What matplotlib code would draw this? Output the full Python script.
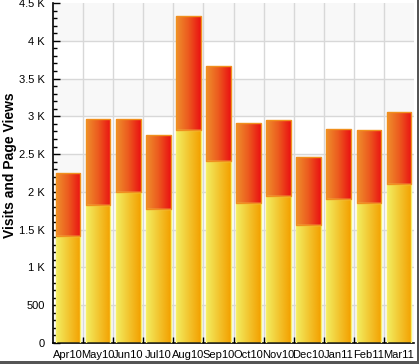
import matplotlib
matplotlib.use("Agg")
import matplotlib.pyplot as plt
import numpy as np
from matplotlib.colors import LinearSegmentedColormap
from matplotlib.ticker import FuncFormatter, MultipleLocator
from matplotlib.patches import Rectangle

months = ["Apr10", "May10", "Jun10", "Jul10", "Aug10", "Sep10",
          "Oct10", "Nov10", "Dec10", "Jan11", "Feb11", "Mar11"]
visits = [1420, 1830, 2000, 1780, 2820, 2405, 1850, 1945, 1560, 1900, 1850, 2100]
page_views = [830, 1130, 960, 970, 1510, 1260, 1060, 1005, 900, 930, 965, 955]

plt.rcParams['font.family'] = ['Liberation Sans', 'DejaVu Sans']

fig = plt.figure(figsize=(4.19, 3.64), dpi=100)
# shadow frame
fig.patches.append(Rectangle((0.995, 0.0), 0.005, 1.0, transform=fig.transFigure,
                             facecolor="#555555", edgecolor="none", zorder=0))
fig.patches.append(Rectangle((0.0, 0.0), 1.0, 0.008, transform=fig.transFigure,
                             facecolor="#555555", edgecolor="none", zorder=0))
ax = fig.add_axes([53/419, (364-343)/364, (414-53)/419, 340/364])

x = np.arange(len(months))
w = 0.82
ax.set_xlim(-0.5, len(months) - 0.5)
ax.set_ylim(0, 4500)

# alternating bands
for lo in range(0, 4500, 1000):
    ax.axhspan(lo, lo + 500, facecolor="#f8f8f8", edgecolor="none", zorder=0)

ax.grid(False)
for yv in range(500, 4500, 500):
    ax.axhline(yv, color="#d8d8d8", lw=1, zorder=0.5)
for xv in np.arange(0.5, len(months) - 0.5, 1):
    ax.axvline(xv, color="#d8d8d8", lw=1, zorder=0.5)

cm_y = LinearSegmentedColormap.from_list("y", ["#f2ee62", "#f3c630", "#f3a000"])
cm_r = LinearSegmentedColormap.from_list("r", ["#ef8f2c", "#ec5a1e", "#ea1212"])
grad = np.linspace(0, 1, 64).reshape(1, -1)

b1 = ax.bar(x, visits, width=w, facecolor="none", edgecolor="#f7ee6a", lw=1, zorder=3)
b2 = ax.bar(x, page_views, width=w, bottom=visits, facecolor="none",
            edgecolor="#f0901e", lw=1, zorder=3)

for bars, cm in ((b1, cm_y), (b2, cm_r)):
    for p in bars:
        x0, y0 = p.get_x(), p.get_y()
        im = ax.imshow(grad, cmap=cm, aspect="auto",
                       extent=(x0, x0 + p.get_width(), y0, y0 + p.get_height()),
                       zorder=2, interpolation="bilinear")
        im.set_clip_path(p)
ax.set_xlim(-0.5, len(months) - 0.5)
ax.set_ylim(0, 4500)

for s in ["top", "right"]:
    ax.spines[s].set_visible(False)
ax.spines["left"].set_color("black")
ax.spines["bottom"].set_color("black")
ax.spines["left"].set_linewidth(1.2)
ax.spines["bottom"].set_linewidth(1.2)

ax.yaxis.set_major_locator(MultipleLocator(500))
ax.yaxis.set_minor_locator(MultipleLocator(100))
def fmt(v, pos):
    if v == 0:
        return "0"
    if v < 1000:
        return f"{int(v)}"
    k = v / 1000
    return (f"{k:g} K")
ax.yaxis.set_major_formatter(FuncFormatter(fmt))
ax.tick_params(axis="y", which="major", direction="in", length=5, width=1,
               labelsize=8, pad=6, colors="black")
ax.tick_params(axis="y", which="minor", direction="in", length=3, width=1)

ax.set_xticks(x)
ax.set_xticklabels(months)
ax.set_xticks(np.arange(0.5, len(months) - 0.5, 1), minor=True)
ax.tick_params(axis="x", which="major", length=0, labelsize=8, pad=5)
ax.tick_params(axis="x", which="minor", direction="in", length=4, width=1)

fig.text(10/419, (364-165)/364, "Visits and Page Views", fontsize=10,
         fontweight="bold", rotation=90, ha="center", va="center")

fig.savefig("out.png", dpi=100)
